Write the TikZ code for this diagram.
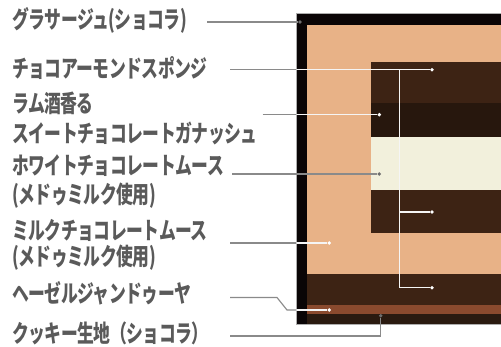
\documentclass[tikz,border=0pt]{standalone}
\usepackage{fontspec}
\newfontfamily\jp{Noto Sans CJK JP}[FakeStretch=0.7, LetterSpace=-2]
\definecolor{framebk}{HTML}{0A0506}
\definecolor{peach}{HTML}{E8B287}
\definecolor{sponge}{HTML}{3D2314}
\definecolor{ganache}{HTML}{27170D}
\definecolor{cream}{HTML}{F2F0DC}
\definecolor{cookie}{HTML}{8A4A2E}
\definecolor{bottomdk}{HTML}{2A1A10}
\definecolor{txtgray}{HTML}{5A5A5A}
\definecolor{linegray}{HTML}{8A8A8A}
\definecolor{dotgray}{HTML}{6E6E6E}
\begin{document}
\begin{tikzpicture}[x=1pt,y=-1pt,
  lbl/.style={anchor=west, inner sep=0pt, text=txtgray, font=\jp\bfseries\fontsize{24}{24}\selectfont},
  dotw/.style={circle, fill=white, inner sep=0pt, minimum size=3.8pt},
  dotg/.style={circle, fill=dotgray, inner sep=0pt, minimum size=3.8pt},
  gline/.style={draw=linegray, line width=1.1pt},
  wline/.style={draw=white!92!gray, line width=1.1pt}]
\useasboundingbox (0,0) rectangle (501,347);
% cake cross-section
\fill[framebk] (296,13) rectangle (501,324);
\fill[peach] (307,25) rectangle (501,274.3);
\fill[sponge] (371.3,61.7) rectangle (501,102.7);
\fill[ganache] (371.3,102.7) rectangle (501,136.7);
\fill[cream] (371.3,136.7) rectangle (501,190);
\fill[sponge] (371.3,190) rectangle (501,232.7);
\fill[sponge] (307,274.3) rectangle (501,305.3);
\fill[cookie] (307,305.3) rectangle (501,314);
\fill[bottomdk] (307,314) rectangle (501,324);
\draw[linegray!70, line width=0.5pt] (501,13) -- (296,13) -- (296,324) -- (501,324);
% labels
\node[lbl] (l1) at (12,20) {グラサージュ(ショコラ)};
\node[lbl] (l2) at (12,68) {チョコアーモンドスポンジ};
\node[lbl] (l3a) at (12,103) {ラム酒香る};
\node[lbl] (l3b) at (12,133) {スイートチョコレートガナッシュ};
\node[lbl] (l4a) at (12,166) {ホワイトチョコレートムース};
\node[lbl] (l4b) at (12,196) {(メドゥミルク使用)};
\node[lbl] (l5a) at (12,230) {ミルクチョコレートムース};
\node[lbl] (l5b) at (12,258) {(メドゥミルク使用)};
\node[lbl] (l6) at (12,293) {ヘーゼルジャンドゥーヤ};
\node[lbl] (l7) at (12,333) {クッキー生地（ショコラ）};
% dots
\node[dotg] (d1) at (300,22) {};
\node[dotw] (d2) at (432,69.7) {};
\node[dotw] (d2b) at (432,212) {};
\node[dotw] (d2c) at (432,287.7) {};
\node[dotw] (d3) at (379.3,114.7) {};
\node[dotg] (d4) at (379.3,174) {};
\node[dotw] (d5) at (329.3,243) {};
\node[dotw] (d6) at (329.3,310) {};
\node[dotg] (d7) at (380.7,315.7) {};
% connector start points and bends
\coordinate (s1) at (207,22);
\coordinate (s2) at (230,69.7);
\coordinate (s3) at ([xshift=5pt]l3b.east |- d3);
\coordinate (s4) at (232,174);
\coordinate (s5) at (230,243);
\coordinate (s6) at (230,297.5);
\coordinate (b6a) at (277,297.5);
\coordinate (b6b) at (287,310);
\coordinate (s7) at (230,336);
\coordinate (b7) at (380.7,336);
\coordinate (j1) at (399.3,69.7);
\coordinate (j2) at (399.3,212);
\coordinate (j3) at (399.3,287.7);
% connectors
\draw[gline] (s1) -- (d1);
\draw[gline] (s2) -- (d2);
\draw[gline] (s3) -- (d3);
\draw[gline] (s4) -- (d4);
\draw[gline] (s5) -- (d5);
\draw[gline] (s6) -- (b6a) -- (b6b) -- (d6);
\draw[gline] (s7) -- (b7) -- (d7);
\begin{scope}
\clip (296.3,13.3) rectangle (501,323.7);
\draw[wline] (s2) -- (d2);
\draw[wline] (s3) -- (d3);
\draw[wline] (s5) -- (d5);
\draw[wline] (b6b) -- (d6);
\end{scope}
\draw[wline] (j1) -- (j3) -- (d2c);
\draw[wline] (j2) -- (d2b);
\end{tikzpicture}
\end{document}
